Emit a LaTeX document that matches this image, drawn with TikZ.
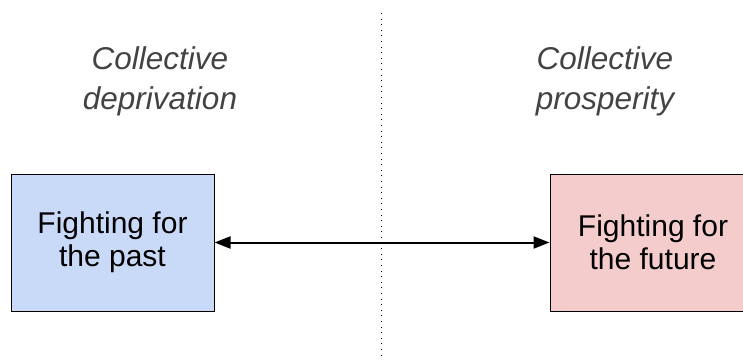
\documentclass[tikz,border=0pt]{standalone}
\usepackage{fontspec}
\setmainfont{Liberation Sans}
\usetikzlibrary{arrows.meta}
\definecolor{boxblue}{HTML}{C9DAF8}
\definecolor{boxred}{HTML}{F4CCCC}
\definecolor{headgray}{HTML}{434343}
\tikzset{
  stagebox/.style={draw=black, line width=1pt, minimum width=203pt, minimum height=137pt,
    align=center, inner sep=0pt, font=\fontsize{30}{33}\selectfont},
  heading/.style={align=center, inner sep=0pt, text=headgray,
    font=\fontsize{31.5}{40}\selectfont\itshape, anchor=north},
  link/.style={line width=2pt, {Triangle[length=16pt,width=12pt]}-{Triangle[length=16pt,width=12pt]}},
  divider/.style={line width=1pt, dash pattern=on 1pt off 4.6pt, black}
}
\begin{document}
\begin{tikzpicture}[x=1pt,y=-1pt]
\useasboundingbox (0,0) rectangle (743,362);
\clip (0,0) rectangle (743,362);
\coordinate (dtop) at (381.5,13);
\coordinate (dbot) at (381.5,357);
\draw[divider] (dtop) -- (dbot);
\node[heading] (hl) at (160,46.5) {Collective\\deprivation};
\node[heading] (hr) at (605,46.5) {Collective\\prosperity};
\node[stagebox, fill=boxblue] (past) at (112.5,242.5) {Fighting for\\the past};
\node[stagebox, fill=boxred, minimum width=206pt] (future) at (653,242.5) {Fighting for\\the future};
\draw[link] (past.east) -- (future.west);
\end{tikzpicture}
\end{document}
